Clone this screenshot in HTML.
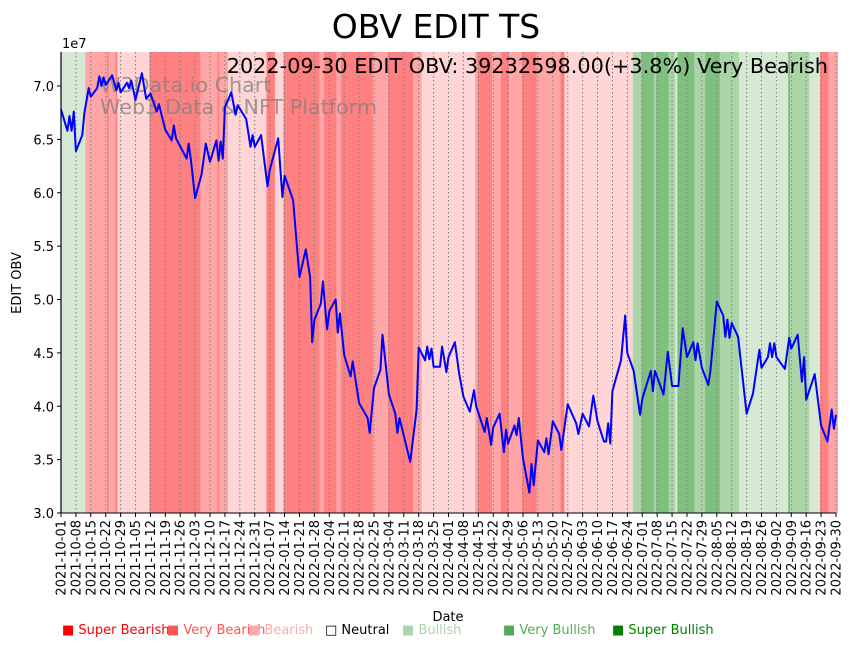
<!DOCTYPE html>
<html><head><meta charset="utf-8"><style>
body{margin:0;background:#fff;font-family:"DejaVu Sans","Liberation Sans",sans-serif}
svg{display:block}
</style></head><body>
<svg id="chart" width="853" height="646" viewBox="0 0 853 646" xmlns="http://www.w3.org/2000/svg">
<text x="436" y="38" text-anchor="middle" font-size="33" fill="#000">OBV EDIT TS</text>
<g id="bands"></g>
<g id="grid"></g>
<g id="watermark" fill="#808080" fill-opacity="0.75" font-size="20.7">
<text x="100" y="92">W3Data.io Chart</text>
<text x="100" y="114">Web3 Data &amp; NFT Platform</text>
</g>
<path id="line" fill="none" stroke="#0000ff" stroke-width="2" stroke-linejoin="round"/>
<text x="828" y="73" text-anchor="end" font-size="20.8" fill="#000">2022-09-30 EDIT OBV: 39232598.00(+3.8%) Very Bearish</text>
<text x="62" y="48" font-size="13">1e7</text>
<g id="yaxis"></g>
<g id="xaxis"></g>
<text transform="translate(21,283) rotate(-90)" text-anchor="middle" font-size="13">EDIT OBV</text>
<text x="448" y="621" text-anchor="middle" font-size="13">Date</text>
<g id="legend" font-size="13"></g>
</svg>
<script>
const bandStarts=[0,12,22,23,26,27,42,66,74,75,79,97,101,105,122,124,130,132,147,154,166,170,195,196,203,207,211,217,224,235,237,269,273,279,280,286,289,290,298,299,303,310,319,342,343,352,357,361];
const bandCats=["G1","P2","P3","P2","P3","P1","P3","P2","P3","P2","P1","P3","P1","P3","P2","P3","P2","P3","P2","P3","P2","P1","P2","P3","P2","P3","P2","P3","P2","P3","P1","G2","G3","G2","G3","G2","G1","G3","G2","G2","G3","G2","G1","G3","G2","G1","P3","P2"];
const obvDays=[0,3,4,5,6,7,10,11,13,14,17,18,19,20,21,24,26,27,28,31,32,33,35,38,40,42,45,46,49,52,53,54,59,60,61,63,66,68,70,73,74,75,76,77,80,82,83,87,89,90,91,94,97,98,102,104,105,109,112,115,117,118,119,122,123,125,126,129,130,131,133,136,137,140,144,145,147,150,151,154,157,158,159,164,167,168,171,172,173,174,175,178,179,181,182,185,187,189,192,194,195,199,200,202,203,206,208,209,210,213,214,215,217,220,221,222,224,227,228,229,231,234,235,238,242,243,245,248,250,252,255,256,257,258,259,263,265,266,269,272,273,277,278,279,283,285,287,290,292,294,297,298,299,301,304,305,308,311,312,313,314,315,318,322,325,328,329,332,333,334,335,336,340,342,343,346,348,349,350,354,357,360,362,363,364];
const obvValues=[6.78,6.58,6.72,6.58,6.76,6.39,6.54,6.75,6.98,6.90,6.98,7.09,7.00,7.08,7.01,7.10,6.96,7.03,6.94,7.03,6.98,7.05,6.87,7.12,6.88,6.93,6.76,6.83,6.59,6.49,6.63,6.51,6.32,6.46,6.31,5.95,6.17,6.46,6.29,6.49,6.30,6.48,6.32,6.80,6.94,6.73,6.82,6.69,6.43,6.54,6.43,6.54,6.06,6.21,6.51,5.96,6.16,5.93,5.21,5.47,5.21,4.60,4.81,4.96,5.17,4.72,4.89,5.00,4.69,4.87,4.48,4.28,4.42,4.03,3.89,3.75,4.17,4.34,4.67,4.11,3.93,3.75,3.89,3.48,3.97,4.55,4.43,4.56,4.44,4.54,4.37,4.37,4.56,4.32,4.46,4.60,4.31,4.09,3.95,4.15,4.00,3.76,3.89,3.64,3.80,3.93,3.57,3.78,3.65,3.82,3.73,3.89,3.51,3.19,3.46,3.26,3.68,3.57,3.70,3.55,3.86,3.74,3.59,4.02,3.84,3.74,3.93,3.81,4.10,3.86,3.67,3.67,3.84,3.65,4.14,4.43,4.85,4.50,4.33,3.92,4.07,4.33,4.14,4.33,4.11,4.51,4.19,4.19,4.73,4.46,4.60,4.43,4.59,4.36,4.20,4.33,4.98,4.85,4.65,4.81,4.64,4.78,4.65,3.93,4.12,4.53,4.36,4.46,4.59,4.46,4.59,4.46,4.35,4.64,4.54,4.67,4.23,4.46,4.06,4.30,3.82,3.67,3.97,3.79,3.92];
const yTicks=[3.0,3.5,4.0,4.5,5.0,5.5,6.0,6.5,7.0];
const legendLabels=["Super Bearish","Very Bearish","Bearish","Neutral","Bullish","Very Bullish","Super Bullish"];
const legendColors=["#ff0000","#ff5555","#ffaaaa","#000000","#aad4aa","#55aa55","#008000"];

const NS="http://www.w3.org/2000/svg";
const X0=61,X1=836,Y0=513,Y1=52,NDAYS=364;
const catColor={P1:"#ffd5d5",P2:"#ffa5a5",P3:"#ff8080",G1:"#d5e8d4",G2:"#aad5a6",G3:"#80bf80"};
function xs(d){return X0+(X1-X0)*d/NDAYS;}
function ys(v){return 513-(v-3)*106.75;}
function mk(tag,attrs,parent){const e=document.createElementNS(NS,tag);for(const k in attrs)e.setAttribute(k,attrs[k]);parent.appendChild(e);return e;}

const bands=document.getElementById('bands');
for(let i=0;i<bandStarts.length;i++){
  const s=bandStarts[i],e=i+1<bandStarts.length?bandStarts[i+1]:NDAYS+1;
  const x=xs(s-0.5<0?0:s-0.5),x2=Math.min(X1,xs(e-0.5));
  const r=mk('rect',{x:x,y:Y1,width:Math.max(0,x2-x),height:Y0-Y1,fill:catColor[bandCats[i]]},bands);
  
  
}
const pad=mk('rect',{x:X1,y:Y1,width:2,height:Y0-Y1,fill:catColor.P2},bands);



const grid=document.getElementById('grid'),xaxis=document.getElementById('xaxis');
const start=Date.UTC(2021,9,1);
for(let d=0;d<=NDAYS;d+=7){
  const x=xs(d);
  const gl=mk('line',{x1:x,x2:x,y1:Y1,y2:Y0,stroke:"#808080","stroke-width":1,"stroke-dasharray":"1.5,2.5"},grid);
  
  
  mk('line',{x1:x,x2:x,y1:Y0,y2:Y0+4,stroke:"#000"},xaxis);
  const dt=new Date(start+d*86400000);
  const lbl=dt.getUTCFullYear()+'-'+String(dt.getUTCMonth()+1).padStart(2,'0')+'-'+String(dt.getUTCDate()).padStart(2,'0');
  const t=mk('text',{transform:`translate(${x+4.5},${Y0+7}) rotate(-90)`,"text-anchor":"end","font-size":13},xaxis);
  t.textContent=lbl;
  
  
}
mk('line',{x1:X0,x2:X1,y1:Y0,y2:Y0,stroke:"#000","stroke-width":1},xaxis);

const yaxis=document.getElementById('yaxis');
mk('line',{x1:X0,x2:X0,y1:Y1,y2:Y0,stroke:"#000","stroke-width":1.2},yaxis);
yTicks.forEach(v=>{
  const y=ys(v);
  mk('line',{x1:X0-4,x2:X0,y1:y,y2:y,stroke:"#000"},yaxis);
  const t=mk('text',{x:X0-7,y:y+5,"text-anchor":"end","font-size":13},yaxis);
  t.textContent=v.toFixed(1);
  
  
});

let dpath='';
obvDays.forEach((d,i)=>{dpath+=(i?'L':'M')+xs(d).toFixed(1)+','+ys(obvValues[i]).toFixed(1);});
document.getElementById('line').setAttribute('d',dpath);

const legend=document.getElementById('legend');
const lx=[62,167,248,325,402,503,612];
legendLabels.forEach((l,i)=>{
  const t=mk('text',{x:lx[i],y:634,fill:legendColors[i]},legend);
  t.textContent=(i===3?'□ ':'■ ')+l;
  
  
});
</script>
</body></html>
